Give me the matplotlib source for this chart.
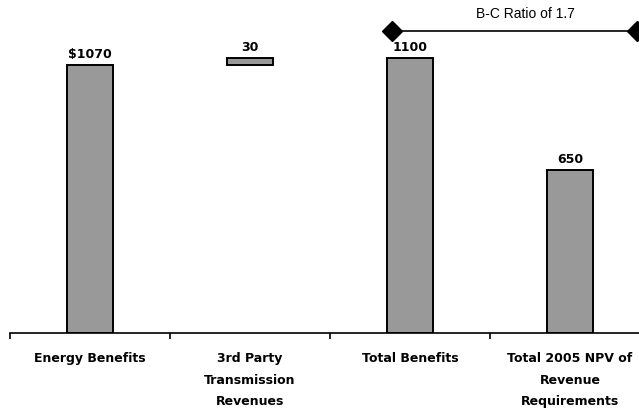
import matplotlib
matplotlib.use("Agg")
import matplotlib.pyplot as plt

# Benefit / cost components (millions of $)
categories = ["Energy Benefits", "3rd Party\nTransmission\nRevenues",
              "Total Benefits", "Total 2005 NPV of\nRevenue\nRequirements"]
bar_bottoms = [0, 1070, 0, 0]
bar_heights = [1070, 30, 1100, 650]
value_labels = ["$1070", "30", "1100", "650"]
ratio_text = "B-C Ratio of 1.7"

plt.rcParams["font.family"] = ["Liberation Sans", "DejaVu Sans"]
bold_font = dict(family="DejaVu Sans", fontweight="bold")

fig = plt.figure(figsize=(6.39, 4.11), dpi=100)
W, H = 639, 411
# axis baseline sits near the bottom; the plot runs past the right edge
ax = fig.add_axes([10 / W, (H - 333) / H, 640 / W, 333 / H])

x = list(range(len(categories)))
ax.bar(x, bar_heights, bottom=bar_bottoms, width=0.29, color="#999999",
       edgecolor="black", linewidth=1.4, zorder=3)

for xi, b, h, lab in zip(x, bar_bottoms, bar_heights, value_labels):
    ax.annotate(lab, (xi, b + h), xytext=(0, 3), textcoords="offset points",
                ha="center", va="bottom", fontsize=9, **bold_font)

# benefit-to-cost ratio bracket
ratio_y = 1208
ax.plot([1.89, 3.42], [ratio_y, ratio_y], color="black", linewidth=1.2,
        marker="D", markersize=10, clip_on=False, zorder=4)
ax.text(2.72, 1276, ratio_text, ha="center", va="center", fontsize=10)

ax.set_xlim(-0.5, 3.5)
ax.set_ylim(0, 1332)

for s in ["top", "right", "left"]:
    ax.spines[s].set_visible(False)
ax.spines["bottom"].set_linewidth(1.2)
ax.set_yticks([])

ax.set_xticks([-0.5, 0.5, 1.5, 2.5, 3.5])
ax.set_xticklabels([])
ax.tick_params(axis="x", which="major", direction="out", length=4, width=1.2)
ax.set_xticks(x, minor=True)
ax.set_xticklabels(categories, minor=True, fontsize=9, linespacing=1.85,
                   **bold_font)
ax.tick_params(axis="x", which="minor", length=0, pad=14)

fig.savefig("out.png", dpi=100)
